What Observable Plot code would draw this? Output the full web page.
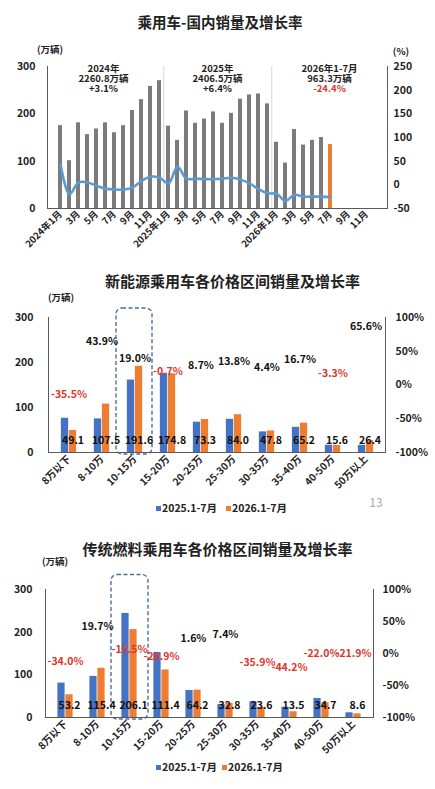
<!DOCTYPE html>
<html><head><meta charset="utf-8">
<script src="https://cdn.jsdelivr.net/npm/d3@7"></script>
<script src="https://cdn.jsdelivr.net/npm/@observablehq/plot@0.6"></script>
<style>
body{margin:0;background:#fff;font-family:"Noto Sans CJK SC","Noto Sans",sans-serif;}
#page{position:relative;width:435px;height:789px;overflow:hidden;background:#fff;}
.t{position:absolute;white-space:nowrap;font-weight:700;color:#222;line-height:1;}
.sq{position:absolute;width:5px;height:5px;}
svg{position:absolute;left:0;}
</style></head>
<body><div id="page"></div>
<script>
// ---------- Chart 1 data ----------
const years = [2024, 2025, 2026];
const monthNums = [1,2,3,4,5,6,7,8,9,10,11,12];
const sales2024 = [175,101,181,156,168,181,160,175,207,230,258,270];
const sales2025 = [174,144,206,180,189,204,180,201,231,240,242,221];
const sales2026 = [140,96,167,134,144,150,135];
const growth2024 = [44,-20,5,5,-2,-8,-10,-10,-6,8,17,15];
const growth2025 = [3,38,13,13,12,12,13,15,11,3,-9,-18];
const growth2026 = [-19,-34,-21,-25,-25,-25,-26];
const annoYears = ["2024年","2025年","2026年1-7月"];
const annoTotals = ["2260.8万辆","2406.5万辆","963.3万辆"];
const annoGrowth = ["+3.1%","+6.4%","-24.4%"];
const annoKeys = ["2024-6","2025-6","2026-7"];
const highlightKey = "2026-7";

// ---------- Chart 2/3 data ----------
const priceBands = ["8万以下","8-10万","10-15万","15-20万","20-25万","25-30万","30-35万","35-40万","40-50万","50万以上"];
const nev2025 = [76.1,74.7,161.0,176.0,67.4,73.8,45.8,55.9,16.1,15.9];
const nev2026 = [49.1,107.5,191.6,174.8,73.3,84.0,47.8,65.2,15.6,26.4];
const nevGrowth = [-35.5,43.9,19.0,-0.7,8.7,13.8,4.4,16.7,-3.3,65.6];
const ice2025 = [80.6,96.4,243.9,152.4,63.2,30.5,36.8,24.2,44.5,11.0];
const ice2026 = [53.2,115.4,206.1,111.4,64.2,32.8,23.6,13.5,34.7,8.6];
const iceGrowth = [-34.0,19.7,-15.5,-26.9,1.6,7.4,-35.9,-44.2,-22.0,-21.9];
const seriesNames = ["2025.1-7月","2026.1-7月"];
const boxBand = "10-15万";

const BLUE = "#4472c4", ORANGE = "#ed7d31", RED = "#e0352b", GRAY = "#7b7b7b", AX = "#595959";
const FONT = '"Noto Sans CJK SC","Noto Sans",sans-serif';
const page = document.getElementById("page");

function addText(txt, x, y, o = {}) {
  const d = document.createElement("div");
  d.className = "t";
  d.textContent = txt;
  d.style.left = x + "px";
  d.style.top = y + "px";
  d.style.fontSize = (o.size || 10) + "px";
  if (o.color) d.style.color = o.color;
  if (o.weight) d.style.fontWeight = o.weight;
  const tx = o.anchor === "start" ? "0" : o.anchor === "end" ? "-100%" : "-50%";
  d.style.transform = `translate(${tx},-50%)`;
  page.appendChild(d);
}
function addSquare(x, y, color) {
  const s = document.createElement("div");
  s.className = "sq";
  s.style.left = x + "px"; s.style.top = (y - 2.5) + "px"; s.style.background = color;
  page.appendChild(s);
}

// ---------- Chart 1 ----------
const salesByYear = {2024: sales2024, 2025: sales2025, 2026: sales2026};
const growthByYear = {2024: growth2024, 2025: growth2025, 2026: growth2026};
const monthKeys = years.flatMap(y => monthNums.map(m => `${y}-${m}`));
const topData = monthKeys.map(k => {
  const [y, m] = k.split("-").map(Number);
  return {key: k, sales: salesByYear[y][m - 1], growth: growthByYear[y][m - 1]};
}).filter(d => d.sales != null);
const topTicks = monthKeys.filter((k, i) => i % 2 === 0);
const fmtMonth = k => { const [y, m] = k.split("-"); return m === "1" ? `${y}年1月` : `${m}月`; };
const c1 = {width: 435, height: 210, mt: 26, mb: 42, ml: 47, mr: 48};
const halfStep1 = (c1.width - c1.ml - c1.mr) / monthKeys.length / 2;
const annoDx = [-2, 4, -1];

const chart1 = Plot.plot({
  width: c1.width, height: c1.height,
  marginTop: c1.mt, marginBottom: c1.mb, marginLeft: c1.ml, marginRight: c1.mr,
  style: {fontFamily: FONT, fontSize: "10px", fontWeight: 700, color: "#222", background: "transparent", overflow: "visible"},
  x: {type: "band", domain: monthKeys, padding: 0.58, axis: null},
  y: {domain: [0, 300], axis: null},
  color: {type: "identity"},
  marks: [
    Plot.ruleX(["2025-1", "2026-1"], {x: d => d, dx: -halfStep1, y1: 0, y2: 300, stroke: "#d6d6d6", strokeWidth: 1}),
    Plot.barY(topData, {x: "key", y: "sales", fill: d => d.key === highlightKey ? ORANGE : GRAY}),
    Plot.line(topData, {x: "key", y: d => d.growth + 50, stroke: "#5b9bd5", strokeWidth: 2.6, curve: "catmull-rom"}),
    Plot.frame({anchor: "left", stroke: AX}),
    Plot.frame({anchor: "right", stroke: AX}),
    Plot.frame({anchor: "bottom", stroke: AX}),
    Plot.axisY([0, 100, 200, 300], {anchor: "left", label: null, tickSize: 0, tickPadding: 12, fontSize: 10.5}),
    Plot.axisY([0, 50, 100, 150, 200, 250, 300], {anchor: "right", label: null, tickSize: 0, tickPadding: 6, fontSize: 10.5, tickFormat: d => d - 50}),
    Plot.axisX(topTicks, {anchor: "bottom", label: null, tickSize: 0, tickRotate: -45, tickPadding: 4, fontSize: 9.5, tickFormat: fmtMonth}),
    ...annoKeys.map((k, i) => Plot.text([i], {
      x: () => k, y: () => 274, dx: annoDx[i],
      text: j => `${annoYears[j]}\n${annoTotals[j]}\n${annoGrowth[j]}`,
      lineHeight: 1.06, fontSize: 9.5, fill: "#222", lineAnchor: "middle"
    }))
  ]
});
d3.select(chart1).selectAll("tspan")
  .filter(function () { return this.textContent.trim().startsWith("-") && this.textContent.includes("%"); })
  .attr("fill", RED);
chart1.style.top = "40px";
page.appendChild(chart1);

addText("乘用车-国内销量及增长率", 220, 22, {size: 14.5});
addText("(万辆)", 37, 50, {size: 9.5, anchor: "start"});
addText("(%)", 401, 52, {size: 9.5});

// ---------- Chart 2 / 3 ----------
function priceChart(v2025, v2026, growth, g) {
  const rows = priceBands.map((b, i) => ({band: b, a: v2025[i], b: v2026[i], g: growth[i]}));
  const step = (435 - g.ml - g.mr) / priceBands.length;
  const barW = 8;
  const toLeft = p => (p + 100) * 1.5;
  return Plot.plot({
    width: 435, height: g.height,
    marginTop: g.mt, marginBottom: g.mb, marginLeft: g.ml, marginRight: g.mr,
    style: {fontFamily: FONT, fontSize: "10px", fontWeight: 700, color: "#222", background: "transparent", overflow: "visible"},
    x: {type: "band", domain: priceBands, padding: 0, axis: null},
    y: {domain: [0, 300], axis: null},
    color: {type: "identity"},
    marks: [
      Plot.barY(rows, {x: "band", y: "a", fill: BLUE, insetLeft: step / 2 - barW, insetRight: step / 2}),
      Plot.barY(rows, {x: "band", y: "b", fill: ORANGE, insetLeft: step / 2, insetRight: step / 2 - barW}),
      Plot.barY([boxBand], {x: d => d, y1: 0, y2: g.boxTop, fill: "none", stroke: "#4d6f96", strokeWidth: 1.4,
        strokeDasharray: "4,2.5", rx: 6, insetLeft: g.boxIL, insetRight: g.boxIR, insetBottom: -2}),
      Plot.frame({anchor: "left", stroke: AX}),
      Plot.frame({anchor: "right", stroke: AX}),
      Plot.frame({anchor: "bottom", stroke: AX}),
      Plot.text(rows, {x: "band", y: 0, dy: -12, dx: barW / 2, text: d => d.b.toFixed(1), fontSize: 10.5, fill: "#111"}),
      Plot.text(rows, {x: "band", y: d => toLeft(d.g), dy: -14, text: d => d.g.toFixed(1) + "%", fontSize: 10.5,
        fill: d => d.g < 0 ? RED : "#111"}),
      Plot.axisY([0, 100, 200, 300], {anchor: "left", label: null, tickSize: 0, tickPadding: g.lp, fontSize: 10.5}),
      Plot.axisY([-100, -50, 0, 50, 100].map(toLeft), {anchor: "right", label: null, tickSize: 0, tickPadding: g.rp, fontSize: 10.5,
        tickFormat: d => (d / 1.5 - 100) + "%"}),
      Plot.axisX({anchor: "bottom", label: null, tickSize: 0, tickRotate: -45, tickPadding: 5, fontSize: 10})
    ]
  });
}

const chart2 = priceChart(nev2025, nev2026, nevGrowth,
  {height: 200, mt: 17, mb: 48, ml: 48, mr: 50, lp: 15, rp: 10, boxTop: 320, boxIL: -2, boxIR: -1});
chart2.style.top = "300px";
page.appendChild(chart2);
addText("新能源乘用车各价格区间销量及增长率", 232.5, 280, {size: 15});
addText("(万辆)", 48, 298, {size: 9.5, anchor: "start"});
addSquare(156, 508, BLUE); addText(seriesNames[0], 162, 508, {size: 10.5, anchor: "start"});
addSquare(226, 508, ORANGE); addText(seriesNames[1], 232, 508, {size: 10.5, anchor: "start"});
addText("13", 376, 502, {size: 12, color: "#aaa", weight: 400});

const chart3 = priceChart(ice2025, ice2026, iceGrowth,
  {height: 190, mt: 19, mb: 43, ml: 45, mr: 62, lp: 13, rp: 9, boxTop: 334, boxIL: -2, boxIR: -3});
chart3.style.top = "570px";
page.appendChild(chart3);
addText("传统燃料乘用车各价格区间销量及增长率", 217.5, 548, {size: 15});
addText("(万辆)", 42, 562, {size: 9.5, anchor: "start"});
addSquare(156, 767, BLUE); addText(seriesNames[0], 162, 767, {size: 10.5, anchor: "start"});
addSquare(222, 767, ORANGE); addText(seriesNames[1], 228, 767, {size: 10.5, anchor: "start"});
</script>
</body></html>
